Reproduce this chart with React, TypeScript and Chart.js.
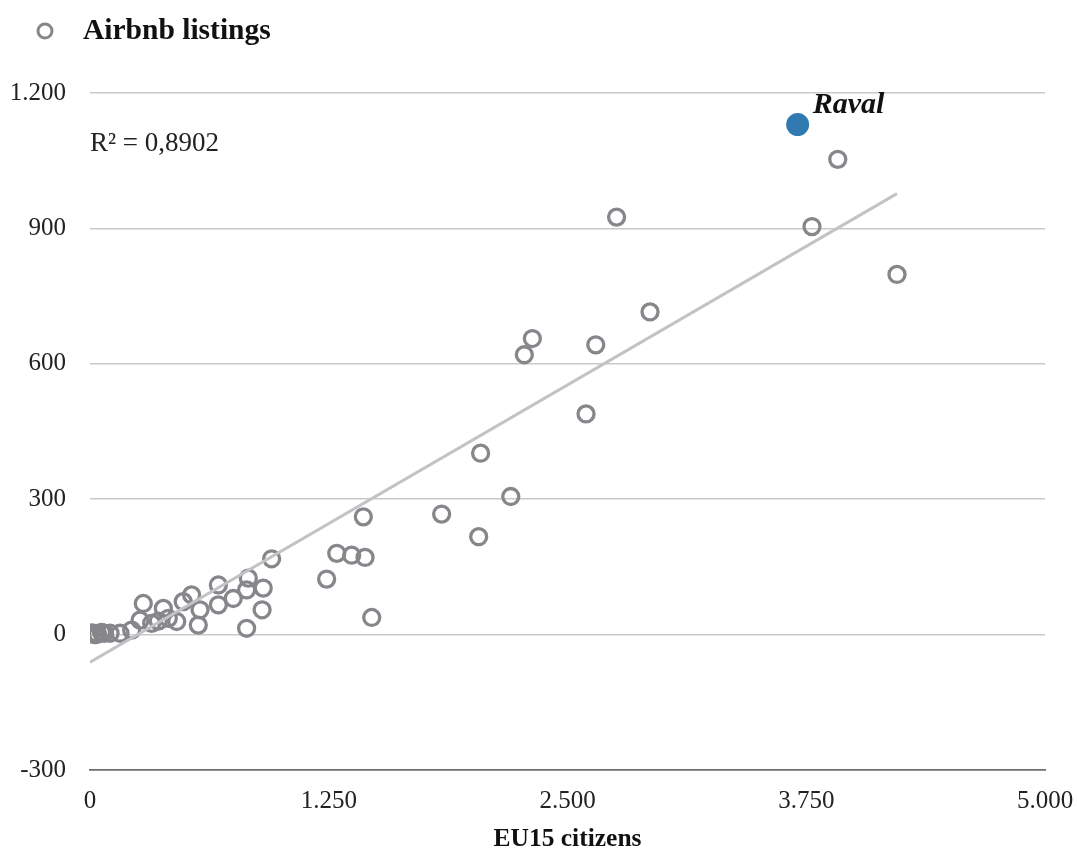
import React, { useEffect, useRef } from "react";
import { Chart, registerables } from "chart.js";

Chart.register(...registerables);

// ---- Data ----
const EU15_CITIZENS = [
  0, 12, 26, 40, 60, 75, 105, 157, 218, 262, 279, 323, 358, 384, 410, 454, 488, 532,
  567, 576, 672, 672, 750, 820, 820, 829, 901, 907, 951,
  1239, 1292, 1370, 1431, 1440, 1475,
  1841, 2035, 2045, 2203, 2274, 2316, 2597, 2648, 2757, 2932, 3780, 3915, 4225,
];
const AIRBNB_LISTINGS = [
  2, 4, 0, 1, 5, 3, 3, 3, 10, 32, 69, 25, 30, 58, 36, 29, 73, 88,
  21, 55, 110, 66, 80, 14, 99, 125, 55, 103, 168,
  123, 180, 176, 261, 171, 38,
  267, 217, 402, 306, 620, 656, 489, 642, 925, 715, 904, 1053, 798,
];
const RAVAL_EU15 = 3705;
const RAVAL_LISTINGS = 1130;
const RAVAL_LABEL = "Raval";

const TREND_SLOPE = 0.2457;
const TREND_INTERCEPT = -61;
const R2_LABEL = "R² = 0,8902";

const LEGEND_LABEL = "Airbnb listings";
const X_TITLE = "EU15 citizens";
const X_TICKS = [0, 1250, 2500, 3750, 5000];
const Y_TICKS = [-300, 0, 300, 600, 900, 1200];

const SERIF = "'Liberation Serif', 'Times New Roman', serif";
const RING = "#86868b";

const fmt = (v: number) => {
  const s = String(Math.abs(v)).replace(/\B(?=(\d{3})+(?!\d))/g, ".");
  return v < 0 ? "-" + s : s;
};

const annotations = {
  id: "annotations",
  afterDraw(chart: any) {
    const ctx = chart.ctx;
    const xs = chart.scales.x;
    const ys = chart.scales.y;
    ctx.save();
    // legend
    ctx.beginPath();
    ctx.arc(45, 31, 7, 0, Math.PI * 2);
    ctx.lineWidth = 3;
    ctx.strokeStyle = RING;
    ctx.stroke();
    ctx.fillStyle = "#111";
    ctx.textBaseline = "middle";
    ctx.textAlign = "left";
    ctx.font = `bold 29.5px ${SERIF}`;
    ctx.fillText(LEGEND_LABEL, 83, 31);
    // R²
    ctx.font = `27px ${SERIF}`;
    ctx.fillStyle = "#222";
    ctx.fillText(R2_LABEL, chart.chartArea.left, 144);
    // Raval label
    const px = xs.getPixelForValue(RAVAL_EU15);
    const py = ys.getPixelForValue(RAVAL_LISTINGS);
    ctx.font = `italic bold 30px ${SERIF}`;
    ctx.fillStyle = "#111";
    ctx.fillText(RAVAL_LABEL, px + 15, py - 19);
    ctx.restore();
  },
};

export default function App() {
  const ref = useRef<HTMLCanvasElement>(null);
  useEffect(() => {
    document.body.style.margin = "0";
    const points = EU15_CITIZENS.map((x, i) => ({ x, y: AIRBNB_LISTINGS[i] }));
    const xMin = Math.min(...EU15_CITIZENS);
    const xMax = Math.max(...EU15_CITIZENS);
    const trend = [
      { x: xMin, y: TREND_SLOPE * xMin + TREND_INTERCEPT },
      { x: xMax, y: TREND_SLOPE * xMax + TREND_INTERCEPT },
    ];
    const chart = new Chart(ref.current as HTMLCanvasElement, {
      type: "scatter",
      data: {
        datasets: [
          {
            label: "Trend",
            data: trend,
            showLine: true,
            borderColor: "#c3c3c6",
            borderWidth: 3,
            pointRadius: 0,
            fill: false,
          },
          {
            label: LEGEND_LABEL,
            data: points,
            pointRadius: 8,
            pointBorderWidth: 3.3,
            borderColor: RING,
            backgroundColor: "rgba(0,0,0,0)",
            pointBackgroundColor: "rgba(0,0,0,0)",
            pointBorderColor: RING,
          },
          {
            label: RAVAL_LABEL,
            data: [{ x: RAVAL_EU15, y: RAVAL_LISTINGS }],
            pointRadius: 11.5,
            pointBorderWidth: 0,
            pointBackgroundColor: "#3079b1",
            pointBorderColor: "#3079b1",
          },
        ],
      },
      options: {
        responsive: false,
        animation: false,
        layout: { padding: { top: 93, right: 32, left: 0, bottom: 0 } },
        plugins: {
          legend: { display: false },
          tooltip: { enabled: false },
        },
        scales: {
          x: {
            type: "linear",
            min: X_TICKS[0],
            max: X_TICKS[X_TICKS.length - 1],
            afterBuildTicks: (s: any) => {
              s.ticks = X_TICKS.map((v) => ({ value: v }));
            },
            afterFit: (s: any) => {
              s.height = 81;
              s.paddingLeft = 0;
              s.paddingRight = 0;
            },
            grid: { display: false, drawTicks: false },
            border: { display: true, color: "#6f6f6f", width: 1.8 },
            ticks: {
              padding: 16,
              color: "#222",
              font: { family: SERIF, size: 25 },
              callback: (v: any) => fmt(Number(v)),
              maxRotation: 0,
            },
            title: {
              display: true,
              text: X_TITLE,
              color: "#111",
              font: { family: SERIF, size: 25.5, weight: "bold", lineHeight: 0.88 },
              padding: { top: 0, bottom: 0 },
            },
          },
          y: {
            type: "linear",
            min: Y_TICKS[0],
            max: Y_TICKS[Y_TICKS.length - 1],
            afterBuildTicks: (s: any) => {
              s.ticks = Y_TICKS.map((v) => ({ value: v }));
            },
            afterFit: (s: any) => {
              s.width = 90;
              s.paddingTop = 0;
              s.paddingBottom = 0;
            },
            grid: {
              drawTicks: false,
              color: (c: any) => (c.tick && c.tick.value === Y_TICKS[0] ? "rgba(0,0,0,0)" : "#c9c9c9"),
              lineWidth: 1.5,
            },
            border: { display: false },
            ticks: {
              padding: 24,
              color: "#222",
              font: { family: SERIF, size: 25 },
              callback: (v: any) => fmt(Number(v)),
            },
          },
        },
      },
      plugins: [annotations],
    } as any);
    return () => chart.destroy();
  }, []);
  return (
    <div style={{ position: "absolute", left: 0, top: 0, width: 1077, height: 851 }}>
      <canvas ref={ref} width={1077} height={851} />
    </div>
  );
}
